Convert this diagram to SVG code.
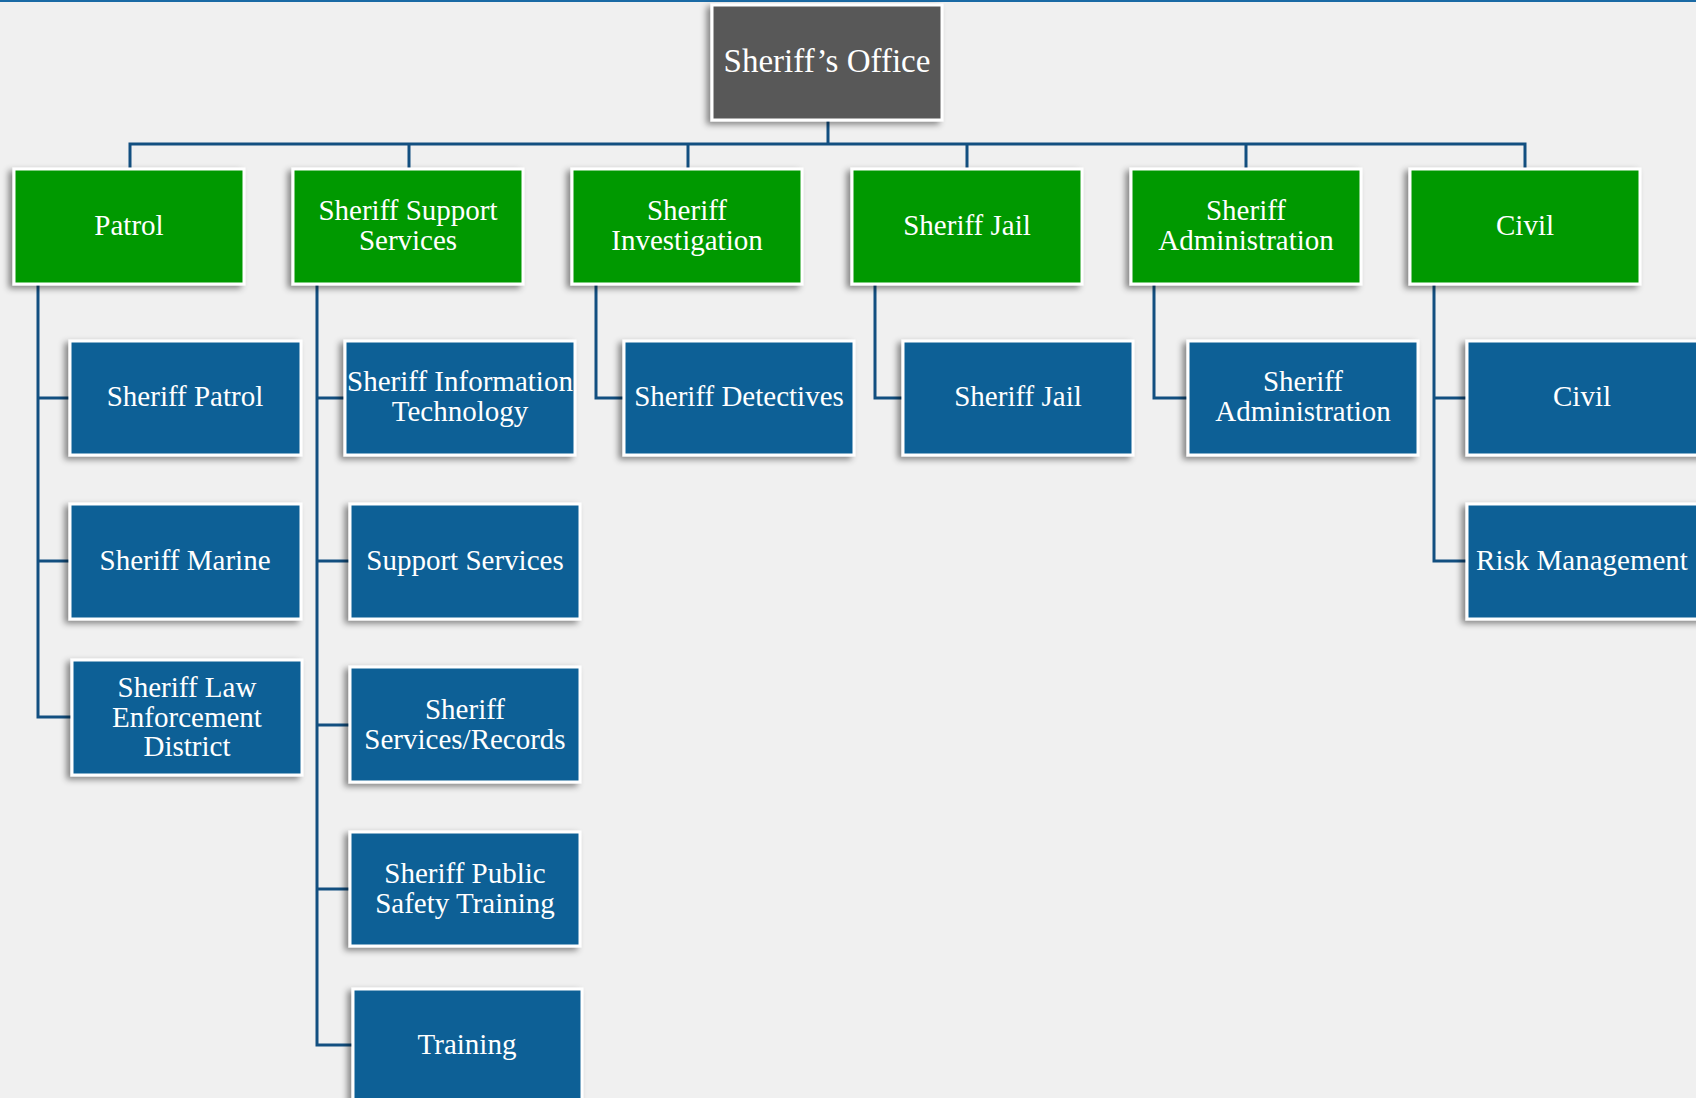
<svg xmlns="http://www.w3.org/2000/svg" width="1696" height="1098" viewBox="0 0 1696 1098">
<defs>
<filter id="sh" x="-10%" y="-10%" width="120%" height="125%">
<feDropShadow dx="-4" dy="3" stdDeviation="3" flood-color="#000" flood-opacity="0.45"/>
</filter>
<style>
.box{stroke:#fff;stroke-width:3;filter:url(#sh)}
.top{fill:#595959}
.l1{fill:#009900}
.l2{fill:#0d6096}
.t{font-family:"Liberation Serif","Times New Roman",serif;font-size:29px;fill:#fff;text-anchor:middle;dominant-baseline:central}
.tt{font-size:33px}
.c{stroke:#124f80;stroke-width:3;fill:none}
</style>
</defs>
<rect width="1696" height="1098" fill="#f0f0f0"/>
<rect x="0" y="0" width="1696" height="2" fill="#1a6aa5"/>
<g id="connectors">
<path class="c" d="M828 120V144M130 169V144H1525V169M409 144V169M688 144V169M967 144V169M1246 144V169"/>
<path class="c" d="M38 284V717H72M38 398H70M38 561H70"/>
<path class="c" d="M317 284V1045H353M317 398H345M317 561H350M317 725H350M317 889H350"/>
<path class="c" d="M596 284V398H624"/>
<path class="c" d="M875 284V398H903"/>
<path class="c" d="M1154 284V398H1188"/>
<path class="c" d="M1434 284V561H1467M1434 398H1467"/>
</g>
<g id="sheriffs-office"><rect class="box top" x="712" y="5" width="230" height="115"/><text class="t tt" x="827" y="61">Sheriff’s Office</text></g>
<g id="patrol"><rect class="box l1" x="14" y="169" width="230" height="115"/><text class="t" x="129" y="225">Patrol</text></g>
<g id="sheriff-support-services"><rect class="box l1" x="293" y="169" width="230" height="115"/><text class="t" x="408" y="210">Sheriff Support<tspan x="408" dy="30">Services</tspan></text></g>
<g id="sheriff-investigation"><rect class="box l1" x="572" y="169" width="230" height="115"/><text class="t" x="687" y="210">Sheriff<tspan x="687" dy="30">Investigation</tspan></text></g>
<g id="sheriff-jail"><rect class="box l1" x="852" y="169" width="230" height="115"/><text class="t" x="967" y="225">Sheriff Jail</text></g>
<g id="sheriff-administration"><rect class="box l1" x="1131" y="169" width="230" height="115"/><text class="t" x="1246" y="210">Sheriff<tspan x="1246" dy="30">Administration</tspan></text></g>
<g id="civil"><rect class="box l1" x="1410" y="169" width="230" height="115"/><text class="t" x="1525" y="225">Civil</text></g>

<g id="sheriff-patrol"><rect class="box l2" x="70" y="341" width="231" height="114"/><text class="t" x="185" y="396">Sheriff Patrol</text></g>
<g id="sheriff-marine"><rect class="box l2" x="70" y="504" width="231" height="115"/><text class="t" x="185" y="560">Sheriff Marine</text></g>
<g id="sheriff-law-enforcement-district"><rect class="box l2" x="72" y="660" width="230" height="115"/><text class="t" x="187" y="687">Sheriff Law<tspan x="187" dy="29.5">Enforcement</tspan><tspan x="187" dy="29.5">District</tspan></text></g>

<g id="sheriff-information-technology"><rect class="box l2" x="345" y="341" width="230" height="114"/><text class="t" x="460" y="381">Sheriff Information<tspan x="460" dy="30">Technology</tspan></text></g>
<g id="support-services"><rect class="box l2" x="350" y="504" width="230" height="115"/><text class="t" x="465" y="560">Support Services</text></g>
<g id="sheriff-services-records"><rect class="box l2" x="350" y="667" width="230" height="115"/><text class="t" x="465" y="709">Sheriff<tspan x="465" dy="30">Services/Records</tspan></text></g>
<g id="sheriff-public-safety-training"><rect class="box l2" x="350" y="832" width="230" height="114"/><text class="t" x="465" y="873">Sheriff Public<tspan x="465" dy="30">Safety Training</tspan></text></g>
<g id="training"><rect class="box l2" x="353" y="989" width="229" height="120"/><text class="t" x="467" y="1044">Training</text></g>

<g id="sheriff-detectives"><rect class="box l2" x="624" y="341" width="230" height="114"/><text class="t" x="739" y="396">Sheriff Detectives</text></g>
<g id="sheriff-jail-child"><rect class="box l2" x="903" y="341" width="230" height="114"/><text class="t" x="1018" y="396">Sheriff Jail</text></g>
<g id="sheriff-administration-child"><rect class="box l2" x="1188" y="341" width="230" height="114"/><text class="t" x="1303" y="381">Sheriff<tspan x="1303" dy="30">Administration</tspan></text></g>
<g id="civil-child"><rect class="box l2" x="1467" y="341" width="240" height="114"/><text class="t" x="1582" y="396">Civil</text></g>
<g id="risk-management"><rect class="box l2" x="1467" y="504" width="240" height="115"/><text class="t" x="1582" y="560">Risk Management</text></g>
</svg>
